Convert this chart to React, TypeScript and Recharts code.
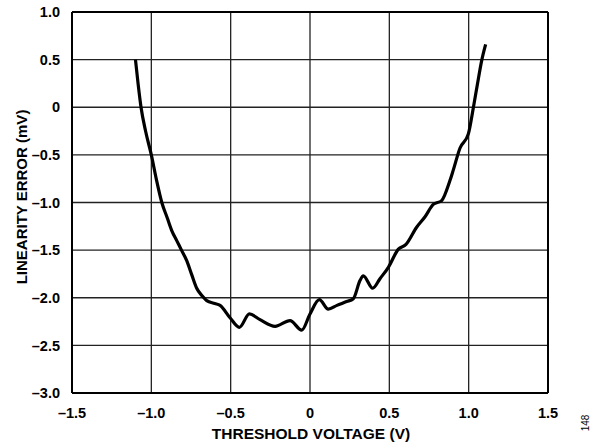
import React from "react";
import {
  LineChart,
  Line,
  XAxis,
  YAxis,
  CartesianGrid,
  ReferenceLine,
} from "recharts";

// threshold voltage (V) vs linearity error (mV)
const thresholdV = [
  -1.1, -1.083, -1.065, -1.035, -1.0, -0.968, -0.934, -0.9, -0.87, -0.84,
  -0.81, -0.777, -0.745, -0.714, -0.68, -0.651, -0.6, -0.567, -0.504, -0.445,
  -0.382, -0.315, -0.22, -0.126, -0.052, 0.0, 0.059, 0.115, 0.17, 0.231, 0.273,
  0.315, 0.336, 0.395, 0.441, 0.494, 0.557, 0.605, 0.672, 0.725, 0.777, 0.83,
  0.882, 0.903, 0.945, 0.998, 1.03, 1.056, 1.082, 1.107,
];
const linearityMv = [
  0.5, 0.24, 0.0, -0.26, -0.5, -0.76, -1.0, -1.16, -1.3, -1.4, -1.5, -1.61,
  -1.76, -1.9, -1.98, -2.03, -2.06, -2.08, -2.21, -2.31, -2.17, -2.23, -2.3,
  -2.24, -2.34, -2.17, -2.02, -2.12, -2.08, -2.04, -2.01, -1.82, -1.77, -1.9,
  -1.8, -1.68, -1.49, -1.44, -1.26, -1.15, -1.02, -0.98, -0.77, -0.66, -0.43,
  -0.28, 0.0, 0.25, 0.49, 0.66,
];

const xTicks = [-1.5, -1.0, -0.5, 0, 0.5, 1.0, 1.5];
const yTicks = [1.0, 0.5, 0, -0.5, -1.0, -1.5, -2.0, -2.5, -3.0];

const data = thresholdV.map((v, i) => ({ v, err: linearityMv[i] }));

const fmt = (n: number) =>
  n === 0 ? "0" : n.toFixed(1).replace("-", "\u2013");

const FONT = "'Liberation Sans', Arial, sans-serif";

export default function App() {
  return (
    <div style={{ position: "absolute", left: 0, top: 0, width: 596, height: 446, background: "#fff" }}>
      <LineChart
        width={596}
        height={446}
        data={data}
        margin={{ top: 12, right: 48, bottom: 0, left: 0 }}
      >
        <CartesianGrid stroke="#222" strokeWidth={1.3} horizontalValues={yTicks} verticalValues={xTicks} />
        <XAxis
          dataKey="v"
          type="number"
          domain={[-1.5, 1.5]}
          ticks={xTicks}
          tickFormatter={fmt}
          height={53}
          tickLine={false}
          axisLine={false}
          tickMargin={9}
          tick={{ fill: "#000", fontSize: 14.5, fontWeight: 700, fontFamily: FONT }}
          interval={0}
        />
        <YAxis
          type="number"
          domain={[-3, 1]}
          ticks={yTicks}
          tickFormatter={fmt}
          width={72}
          tickLine={false}
          axisLine={false}
          tickMargin={6}
          tick={{ fill: "#000", fontSize: 14.5, fontWeight: 700, fontFamily: FONT }}
          interval={0}
        />
        <ReferenceLine x={-1.5} stroke="#000" strokeWidth={2} />
        <ReferenceLine x={1.5} stroke="#000" strokeWidth={2} />
        <ReferenceLine y={1} stroke="#000" strokeWidth={2} />
        <ReferenceLine y={-3} stroke="#000" strokeWidth={2} />
        <Line
          dataKey="err"
          type="monotone"
          stroke="#000"
          strokeWidth={3.2}
          dot={false}
          isAnimationActive={false}
        />
        <text
          x={311}
          y={438.5}
          textAnchor="middle"
          fontFamily={FONT}
          fontWeight={700}
          fontSize={15.5}
          fill="#000"
        >
          THRESHOLD VOLTAGE (V)
        </text>
        <text
          x={27}
          y={197}
          transform="rotate(-90 27 197)"
          textAnchor="middle"
          fontFamily={FONT}
          fontWeight={700}
          fontSize={15}
          fill="#000"
        >
          LINEARITY ERROR (mV)
        </text>
        <text
          x={589}
          y={423}
          transform="rotate(-90 589 423)"
          textAnchor="middle"
          fontFamily={FONT}
          fontSize={10}
          fill="#000"
        >
          148
        </text>
      </LineChart>
    </div>
  );
}
